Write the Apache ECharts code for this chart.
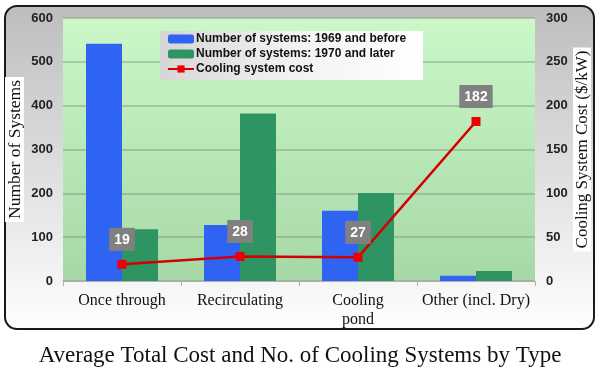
<!DOCTYPE html>
<html>
<head>
<meta charset="utf-8">
<script src="https://cdn.jsdelivr.net/npm/echarts@6/dist/echarts.min.js"></script>
<style>html,body{margin:0;padding:0;background:#fff;}#c{width:600px;height:384px;}</style>
</head>
<body>
<div id="c"></div>
<script>
const categories = ['Once through', 'Recirculating', 'Cooling\npond', 'Other (incl. Dry)'];
const before1969 = [541, 128, 160, 12];
const after1970 = [118, 382, 201, 23];
const cost = [19, 28, 27, 182];
const leftTicks = { min: 0, max: 600, interval: 100 };
const rightTicks = { min: 0, max: 300, interval: 50 };

const chart = echarts.init(document.getElementById('c'), null, { renderer: 'canvas' });
const serif = "'Liberation Serif', 'DejaVu Serif', serif";
const sans = "'Liberation Sans', Arial, sans-serif";

chart.setOption({
  animation: false,
  title: {
    text: 'Average Total Cost and No. of Cooling Systems by Type',
    left: 'center', top: 339,
    textStyle: { fontFamily: serif, fontWeight: 'normal', fontSize: 23, color: '#111' }
  },
  graphic: [
    {
      type: 'rect', z: -1,
      shape: { x: 5, y: 6, width: 589, height: 323, r: 12 },
      style: {
        fill: new echarts.graphic.LinearGradient(0, 0, 0, 1, [
          { offset: 0, color: '#bdbdbd' }, { offset: 1, color: '#ffffff' }
        ]),
        stroke: '#1a1a1a', lineWidth: 2
      }
    },
    {
      type: 'rect', z: 3,
      shape: { x: 160, y: 31, width: 263, height: 49 },
      style: {
        fill: new echarts.graphic.LinearGradient(0, 0, 1, 0, [
          { offset: 0, color: '#d6d6d6' }, { offset: 0.5, color: '#f2f2f2' }, { offset: 1, color: '#ffffff' }
        ])
      }
    }
  ],
  legend: {
    z: 5,
    left: 167, top: 33, orient: 'vertical', itemGap: 3,
    itemWidth: 26, itemHeight: 9, padding: 0,
    textStyle: { fontFamily: sans, fontWeight: 'bold', fontSize: 12, color: '#111', padding: [0, 0, 0, -3] },
    data: ['Number of systems: 1969 and before', 'Number of systems: 1970 and later', 'Cooling system cost']
  },
  grid: {
    left: 63, right: 65, top: 18, bottom: 103,
    outerBoundsMode: 'none', containLabel: false,
    show: true, borderWidth: 0,
    backgroundColor: new echarts.graphic.LinearGradient(0, 0, 0, 1, [
      { offset: 0, color: '#ccf8c8' }, { offset: 1, color: '#a6d8a6' }
    ])
  },
  xAxis: {
    type: 'category', data: categories,
    axisLine: { show: true, lineStyle: { color: '#b0b0b0', width: 1 } },
    axisTick: { show: true, length: 5, lineStyle: { color: '#b0b0b0' } },
    axisLabel: { fontFamily: serif, fontSize: 16, color: '#111', margin: 10, lineHeight: 19, interval: 0 }
  },
  yAxis: [
    {
      type: 'value', min: leftTicks.min, max: leftTicks.max, interval: leftTicks.interval,
      name: 'Number of Systems', nameLocation: 'middle', nameGap: 39, nameRotate: 90, nameMoveOverlap: false,
      nameTextStyle: { fontFamily: serif, fontSize: 17.5, color: '#111', backgroundColor: '#fff', padding: [1, 3, 0, 3] },
      axisLine: { show: false }, axisTick: { show: false },
      axisLabel: { fontFamily: sans, fontWeight: 'bold', fontSize: 13, color: '#222', margin: 10 },
      splitLine: { show: true, lineStyle: { color: 'rgba(130,140,130,0.55)', width: 1.5 } }
    },
    {
      type: 'value', min: rightTicks.min, max: rightTicks.max, interval: rightTicks.interval,
      name: 'Cooling System Cost ($/kW)', nameLocation: 'middle', nameGap: 38, nameRotate: 90, nameMoveOverlap: false,
      nameTextStyle: { fontFamily: serif, fontSize: 17, color: '#111', backgroundColor: '#fff', padding: [1, 3, 0, 3] },
      axisLine: { show: false }, axisTick: { show: false },
      axisLabel: { fontFamily: sans, fontWeight: 'bold', fontSize: 13, color: '#222', margin: 11 },
      splitLine: { show: false }
    }
  ],
  series: [
    {
      name: 'Number of systems: 1969 and before', type: 'bar', data: before1969,
      barWidth: 36, barGap: '0%', itemStyle: { color: '#2f64f2' }
    },
    {
      name: 'Number of systems: 1970 and later', type: 'bar', data: after1970,
      barWidth: 36, barGap: '0%', itemStyle: { color: '#2e9462' }
    },
    {
      name: 'Cooling system cost', type: 'line', yAxisIndex: 1, data: cost,
      symbol: 'rect', symbolSize: 9,
      lineStyle: { color: '#d20000', width: 2.5 },
      itemStyle: { color: '#ee0000' },
      z: 4,
      label: {
        show: true, position: 'top', distance: 9,
        backgroundColor: '#808080', color: '#fff', fontFamily: sans, fontWeight: 'bold', fontSize: 14,
        padding: [5, 5, 4, 5]
      }
    }
  ]
});
</script>
</body>
</html>
